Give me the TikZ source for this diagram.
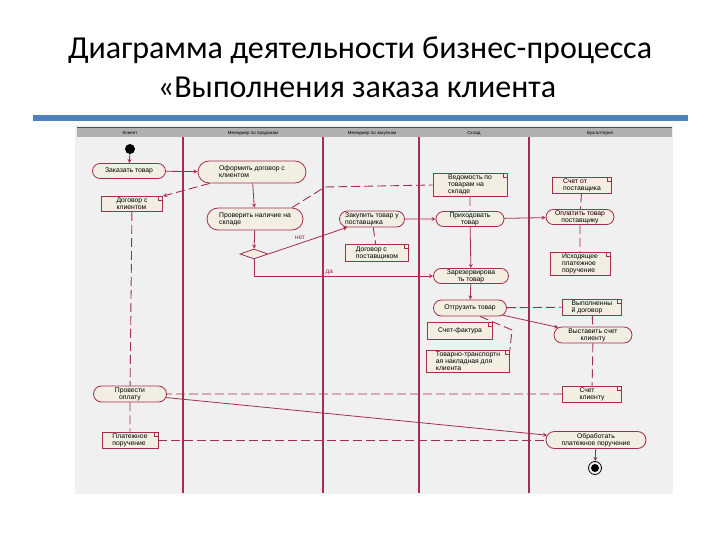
\documentclass[tikz,border=0pt]{standalone}
\usepackage{fontspec}
\setmainfont{Carlito}
\newfontfamily\diagfont{Liberation Sans}
\usetikzlibrary{arrows.meta,shapes.geometric,shapes.misc}
\definecolor{laneline}{RGB}{165,45,80}
\definecolor{actfill}{RGB}{242,238,226}
\definecolor{lanebg}{RGB}{240,240,240}
\definecolor{headbar}{RGB}{176,176,176}
\definecolor{rulebl}{RGB}{79,129,189}
\tikzset{
  act/.style={rounded rectangle,draw=laneline,fill=actfill,line width=0.8pt,inner sep=1pt,
    align=center,font=\diagfont\fontsize{6.8}{7}\selectfont},
  actl/.style={act,align=left},
  obj/.style={rectangle,draw=laneline,fill=actfill,line width=0.8pt,inner sep=1.5pt,
    align=left,font=\diagfont\fontsize{6.8}{7}\selectfont,
    path picture={\draw[laneline,line width=0.6pt]
      ([xshift=-4pt]path picture bounding box.north east) -- ++(0,-4pt) -- ++(4pt,0);}},
  flow/.style={-stealth,laneline,line width=0.8pt},
  objflow/.style={laneline,line width=0.9pt,dash pattern=on 9pt off 4pt},
  lane/.style={laneline,line width=1.1pt},
  lanehead/.style={font=\diagfont\fontsize{4.5}{5}\selectfont},
  guard/.style={font=\diagfont\fontsize{6.5}{7}\selectfont,inner sep=1pt},
}

\begin{document}
\begin{tikzpicture}[x=1pt,y=-1pt]
  \useasboundingbox (0,0) rectangle (720,540);
  % title and rule
  \node[anchor=base,font=\fontsize{32}{38}\selectfont] (title1) at (360,59) {Диаграмма деятельности бизнес-процесса};
  \node[anchor=base,font=\fontsize{32}{38}\selectfont] (title2) at (357,98) {«Выполнения заказа клиента};
  \fill[rulebl] (33,115) rectangle (688,121);

  % swimlanes
  \fill[lanebg] (75,125) rectangle (673,494);
  \fill[headbar] (77,128) rectangle (672,137);
  \draw[black!70,line width=1pt] (77,128) -- (672,128);
  \foreach \lx in {183,323,419,529}
    \draw[lane] (\lx,137) -- (\lx,493);
  \node[lanehead] (hkl) at (130,133) {Клиент};
  \node[lanehead] (hprod) at (253,133) {Менеджер по продажам};
  \node[lanehead] (hzak) at (372,133) {Менеджер по закупкам};
  \node[lanehead] (hskl) at (474,133) {Склад};
  \node[lanehead] (hbuh) at (600,133) {Бухгалтерия};

  % activities
  \node[circle,fill=black,minimum size=10pt,inner sep=0pt] (start) at (130,149) {};
  \node[act,minimum width=75pt,minimum height=15pt] (zakaz) at (129,171) {Заказать товар};
  \node[actl,minimum width=110pt,minimum height=22pt] (oform) at (252,172) {Оформить договор с\\клиентом};
  \node[actl,minimum width=98pt,minimum height=22pt] (prov) at (255,219) {Проверить наличие на\\складе};
  \node[diamond,draw=laneline,fill=actfill,line width=0.8pt,minimum width=28pt,minimum height=10pt,inner sep=0pt] (dec) at (254,254) {};
  \node[actl,minimum width=67pt,minimum height=16pt] (zakup) at (372,219) {Закупить товар у\\поставщика};
  \node[act,minimum width=70pt,minimum height=15pt] (prih) at (470,219) {Приходовать\\товар};
  \node[act,minimum width=70pt,minimum height=14pt] (oplat) at (580,217) {Оплатить товар\\поставщику};
  \node[act,minimum width=77pt,minimum height=15pt] (rezerv) at (471,276) {Зарезервирова\\ть товар};
  \node[act,minimum width=75pt,minimum height=16pt] (otgr) at (470,308) {Отгрузить товар};
  \node[act,minimum width=80pt,minimum height=16pt] (vyst) at (593,335) {Выставить счет\\клиенту};
  \node[act,minimum width=75pt,minimum height=16pt] (provopl) at (130,394) {Провести\\оплату};
  \node[act,minimum width=102pt,minimum height=17pt] (obrab) at (596,440) {Обработать\\платежное поручение};
  \node[circle,draw=black,line width=0.8pt,minimum size=13pt,inner sep=0pt,
    path picture={\fill[black] (path picture bounding box.center) circle (4pt);}] (finish) at (595,468) {};

  % objects
  \node[obj,minimum width=61pt,minimum height=15pt] (dogkl) at (132,204) {Договор с\\клиентом};
  \node[obj,minimum width=74pt,minimum height=20pt] (vedom) at (470,185) {Ведомость по\\товарам на\\складе};
  \node[obj,minimum width=59pt,minimum height=15pt] (schetpost) at (582,185) {Счет от\\поставщика};
  \node[obj,minimum width=63pt,minimum height=17pt] (dogpost) at (377,253) {Договор с\\поставщиком};
  \node[obj,minimum width=60pt,minimum height=22pt] (ishod) at (580,264) {Исходящее\\платежное\\поручение};
  \node[obj,minimum width=59pt,minimum height=15pt] (vypdog) at (592,307) {Выполненны\\й договор};
  \node[obj,minimum width=65pt,minimum height=17pt] (sf) at (460,331) {Счет-фактура};
  \node[obj,minimum width=83pt,minimum height=22pt] (ttn) at (468,361) {Товарно-транспортн\\ая накладная для\\клиента};
  \node[obj,minimum width=59pt,minimum height=16pt] (schetkl) at (592,394) {Счет\\клиенту};
  \node[obj,minimum width=56pt,minimum height=15pt] (platpor) at (130,440) {Платежное\\поручение};

  \coordinate (kinkved) at (325,187);
  \coordinate (kinkttn) at (512,330);

  % control flow
  \draw[flow] (start) -- (zakaz);
  \draw[flow] (zakaz) -- (oform);
  \draw[flow] (oform) -- (prov);
  \draw[flow] (prov) -- (dec);
  \draw[flow] (dec.east) -- (zakup) node[guard,pos=0.4,above=2pt] {нет};
  \draw[flow] (dec.south) |- (rezerv.west) node[guard,pos=0.71,above] {да};
  \draw[flow] (zakup) -- (prih);
  \draw[flow] (prih) -- (oplat);
  \draw[flow] (prih) -- (rezerv);
  \draw[flow] (rezerv) -- (otgr);
  \draw[flow] (otgr) -- (vyst);
  \draw[flow] (provopl) -- (obrab);
  \draw[flow] (obrab) -- (finish);

  % object flow
  \draw[objflow,-stealth] (oform) -- (dogkl.north east);
  \draw[objflow] (dogkl) -- (provopl);
  \draw[objflow] (provopl) -- (platpor);
  \draw[objflow] (prov.north east) -- (kinkved) -- (vedom.west);
  \draw[objflow] (vedom) -- (prih);
  \draw[objflow] (zakup) -- (dogpost);
  \draw[objflow] (schetpost) -- (oplat);
  \draw[objflow] (oplat) -- (ishod);
  \draw[objflow] (otgr) -- (vypdog);
  \draw[objflow] (otgr.-40) -- (kinkttn) -- (ttn.north east);
  \draw[objflow] (vypdog) -- (vyst);
  \draw[objflow] (vyst) -- (schetkl);
  \draw[objflow] (schetkl) -- (provopl);
  \draw[objflow] (platpor) -- (obrab);
\end{tikzpicture}
\end{document}
